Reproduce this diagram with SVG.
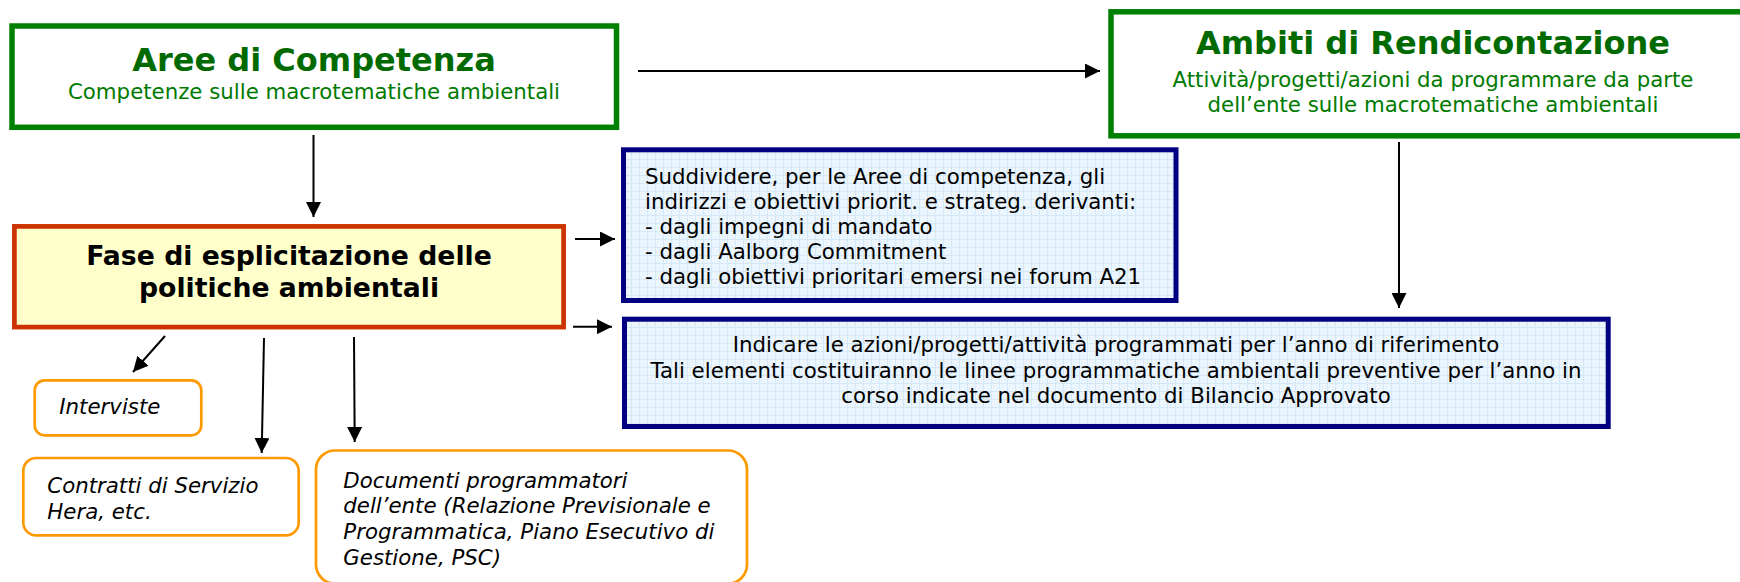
<svg xmlns="http://www.w3.org/2000/svg" width="1740" height="582" viewBox="0 0 1740 582">
<style>
.green{fill:#ffffff;stroke:#008000;stroke-width:5.5}
.gt{font-family:"DejaVu Sans",Verdana,sans-serif;font-weight:bold;font-size:32px;fill:#006a00;text-anchor:middle}
.gs{font-family:"DejaVu Sans",Verdana,sans-serif;font-size:21.3px;fill:#007a00;text-anchor:middle}
.fase{fill:#ffffcc;stroke:#cc3300;stroke-width:4.7}
.ft{font-family:"DejaVu Sans",Verdana,sans-serif;font-weight:bold;font-size:26.7px;fill:#000;text-anchor:middle}
.blue{fill:url(#grid);stroke:#000080;stroke-width:5}
.bt{font-family:"DejaVu Sans",Verdana,sans-serif;font-size:21.3px;fill:#000}
.orange{fill:#ffffff;stroke:#ff9900;stroke-width:2.7}
.it{font-family:"DejaVu Sans",Verdana,sans-serif;font-style:italic;font-size:21.3px;fill:#000}
.conn line{stroke:#000;stroke-width:2;marker-end:url(#ah)}
</style>
<defs>
<pattern id="grid" width="8" height="8" patternUnits="userSpaceOnUse">
<rect width="8" height="8" fill="#eaf5fd"/>
<path d="M7.5 0V8M0 7.5H8" stroke="#d6e8f6" stroke-width="1" fill="none"/>
</pattern>
<marker id="ah" markerUnits="userSpaceOnUse" markerWidth="15" markerHeight="15" viewBox="0 0 15 15" refX="15" refY="7.5" orient="auto">
<path d="M0 0L15 7.5L0 15z" fill="#000"/>
</marker>
</defs>
<rect width="1740" height="582" fill="#ffffff"/>

<g id="aree">
<rect class="green" x="12" y="26" width="604.5" height="101.3"/>
<text class="gt" x="314" y="71">Aree di Competenza</text>
<text class="gs" x="314" y="99">Competenze sulle macrotematiche ambientali</text>
</g>

<g id="ambiti">
<rect class="green" x="1111" y="11.8" width="644" height="124"/>
<text class="gt" x="1433" y="54">Ambiti di Rendicontazione</text>
<text class="gs" x="1433" y="87">Attività/progetti/azioni da programmare da parte</text>
<text class="gs" x="1433" y="112">dell’ente sulle macrotematiche ambientali</text>
</g>

<g id="fase">
<rect class="fase" x="14.4" y="226.4" width="549.2" height="100.7"/>
<text class="ft" x="289" y="265">Fase di esplicitazione delle</text>
<text class="ft" x="289" y="297">politiche ambientali</text>
</g>

<g id="suddividere">
<rect class="blue" x="623.5" y="149.8" width="552.5" height="150.7"/>
<text class="bt" x="645" y="184">Suddividere, per le Aree di competenza, gli</text>
<text class="bt" x="645" y="209">indirizzi e obiettivi priorit. e strateg. derivanti:</text>
<text class="bt" x="645" y="234">- dagli impegni di mandato</text>
<text class="bt" x="645" y="259">- dagli Aalborg Commitment</text>
<text class="bt" x="645" y="284">- dagli obiettivi prioritari emersi nei forum A21</text>
</g>

<g id="indicare">
<rect class="blue" x="624.5" y="319.2" width="983.7" height="107.3"/>
<text class="bt" x="1116" y="352" text-anchor="middle">Indicare le azioni/progetti/attività programmati per l’anno di riferimento</text>
<text class="bt" x="1116" y="377.5" text-anchor="middle">Tali elementi costituiranno le linee programmatiche ambientali preventive per l’anno in</text>
<text class="bt" x="1116" y="403" text-anchor="middle">corso indicate nel documento di Bilancio Approvato</text>
</g>

<g id="interviste">
<rect class="orange" x="34.7" y="380.3" width="166.6" height="55" rx="10"/>
<text class="it" x="59.3" y="414.3">Interviste</text>
</g>

<g id="contratti">
<rect class="orange" x="23.3" y="458" width="275.4" height="77.4" rx="13"/>
<text class="it" x="47.3" y="492.7">Contratti di Servizio</text>
<text class="it" x="47.3" y="519">Hera, etc.</text>
</g>

<g id="documenti">
<rect class="orange" x="316" y="450.5" width="431" height="133" rx="19"/>
<text class="it" x="343.3" y="487.7">Documenti programmatori</text>
<text class="it" x="343.3" y="513.3">dell’ente (Relazione Previsionale e</text>
<text class="it" x="343.3" y="539.3">Programmatica, Piano Esecutivo di</text>
<text class="it" x="343.3" y="565">Gestione, PSC)</text>
</g>

<g id="connectors" class="conn">
<line x1="638" y1="71" x2="1100" y2="71"/>
<line x1="313.5" y1="135" x2="313.5" y2="217"/>
<line x1="575" y1="239" x2="615" y2="239"/>
<line x1="573" y1="326.7" x2="612" y2="326.7"/>
<line x1="1399" y1="142" x2="1399" y2="308"/>
<line x1="165" y1="336" x2="133" y2="372"/>
<line x1="264" y1="338" x2="261.7" y2="453"/>
<line x1="354" y1="337" x2="354.7" y2="442"/>
</g>
</svg>
